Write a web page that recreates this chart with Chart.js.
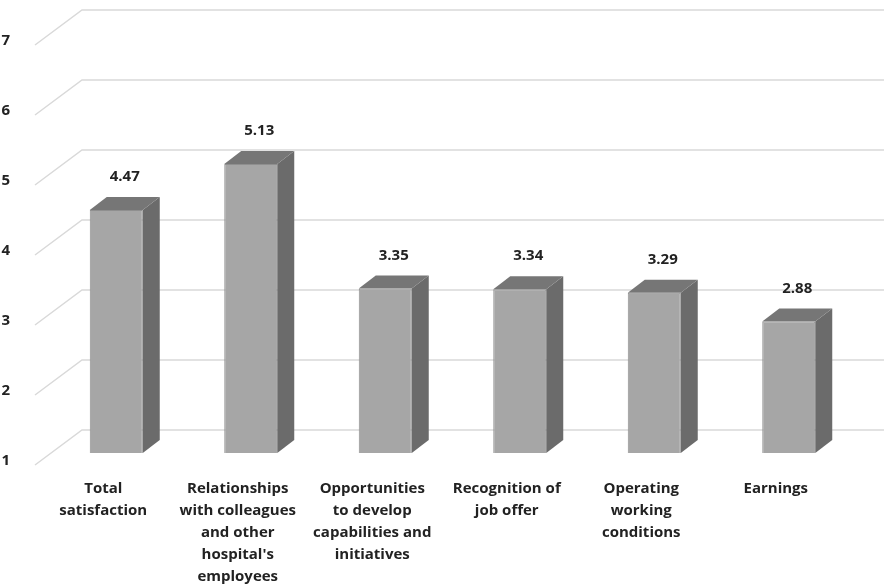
<!DOCTYPE html>
<html lang="en">
<head>
  <meta charset="UTF-8">
  <title>Job satisfaction</title>
  <script src="https://cdn.jsdelivr.net/npm/chart.js"></script>
  <style>
    body { margin: 0; background: #fff; }
    #wrap { width: 884px; height: 584px; }
  </style>
</head>
<body>
  <div id="wrap"><canvas id="chart" width="884" height="584"></canvas></div>

  <script>
    const categories = [
      ['Total', 'satisfaction'],
      ['Relationships', 'with colleagues', 'and other', "hospital's", 'employees'],
      ['Opportunities', 'to develop', 'capabilities and', 'initiatives'],
      ['Recognition of', 'job offer'],
      ['Operating', 'working', 'conditions'],
      ['Earnings']
    ];
    const scores = [4.47, 5.13, 3.35, 3.34, 3.29, 2.88];
    const yTicks = [1, 2, 3, 4, 5, 6, 7];

    const textColor = '#222222';
    const fontFamily = '"Open Sans", sans-serif';

    // depth of the 3D box
    const barDepth = { dx: 17, dy: 13 };

    const floorGrid = {
      id: 'floorGrid',
      beforeDatasetsDraw(chart) {
        const { ctx, chartArea, scales } = chart;
        const y = scales.y;
        ctx.save();
        ctx.strokeStyle = '#d9d9d9';
        ctx.lineWidth = 1.5;
        yTicks.forEach(v => {
          const py = y.getPixelForValue(v);
          ctx.beginPath();
          ctx.moveTo(chartArea.left - 14, py + 12);
          ctx.lineTo(chartArea.left + 33, py - 23);
          ctx.lineTo(chart.width, py - 23);
          ctx.stroke();
        });
        ctx.restore();
      }
    };

    const boxes = {
      id: 'boxes',
      afterDatasetsDraw(chart) {
        const { ctx, scales } = chart;
        const floor = scales.y.getPixelForValue(yTicks[0]);
        const meta = chart.getDatasetMeta(0);
        ctx.save();
        meta.data.forEach((bar, i) => {
          const { x, y, width } = bar.getProps(['x', 'y', 'width'], true);
          const base = floor;
          const l = x - width / 2, r = x + width / 2;
          // side face
          ctx.fillStyle = '#6b6b6b';
          ctx.beginPath();
          ctx.moveTo(r, y);
          ctx.lineTo(r + barDepth.dx, y - barDepth.dy);
          ctx.lineTo(r + barDepth.dx, base - barDepth.dy);
          ctx.lineTo(r, base);
          ctx.closePath();
          ctx.fill();
          // top face
          ctx.fillStyle = '#767676';
          ctx.beginPath();
          ctx.moveTo(l, y);
          ctx.lineTo(l + barDepth.dx, y - barDepth.dy);
          ctx.lineTo(r + barDepth.dx, y - barDepth.dy);
          ctx.lineTo(r, y);
          ctx.closePath();
          ctx.fill();
          // value label
          ctx.fillStyle = textColor;
          ctx.font = 'bold 15px ' + fontFamily;
          ctx.textAlign = 'center';
          ctx.textBaseline = 'middle';
          ctx.fillText(scores[i].toFixed(2), x + barDepth.dx / 2, y - barDepth.dy - 20);
        });
        ctx.restore();
      }
    };

    new Chart(document.getElementById('chart'), {
      type: 'bar',
      data: {
        labels: categories,
        datasets: [{
          data: scores,
          backgroundColor: '#a6a6a6',
          borderColor: '#8f8f8f',
          borderWidth: 1,
          barPercentage: 0.394,
          categoryPercentage: 1
        }]
      },
      options: {
        responsive: false,
        animation: false,
        layout: { padding: { top: 33, right: 28, left: 0, bottom: 0 } },
        plugins: { legend: { display: false }, tooltip: { enabled: false } },
        scales: {
          x: {
            grid: { display: false },
            border: { display: false },
            ticks: {
              color: textColor,
              font: { family: fontFamily, size: 15, weight: 'bold', lineHeight: 1.47 },
              padding: 17,
              labelOffset: -13,
              maxRotation: 0,
              autoSkip: false
            },
            afterFit(s) { s.height = 131; s.paddingLeft = 0; s.paddingRight = 0; }
          },
          y: {
            min: 1,
            max: 7,
            grid: { display: false },
            border: { display: false },
            ticks: {
              stepSize: 1,
              color: textColor,
              font: { family: fontFamily, size: 15, weight: 'bold' },
              padding: 31,
              labelOffset: 8
            },
            afterFit(s) { s.width = 49; s.paddingTop = 0; s.paddingBottom = 0; }
          }
        }
      },
      plugins: [floorGrid, boxes]
    });
  </script>
</body>
</html>
